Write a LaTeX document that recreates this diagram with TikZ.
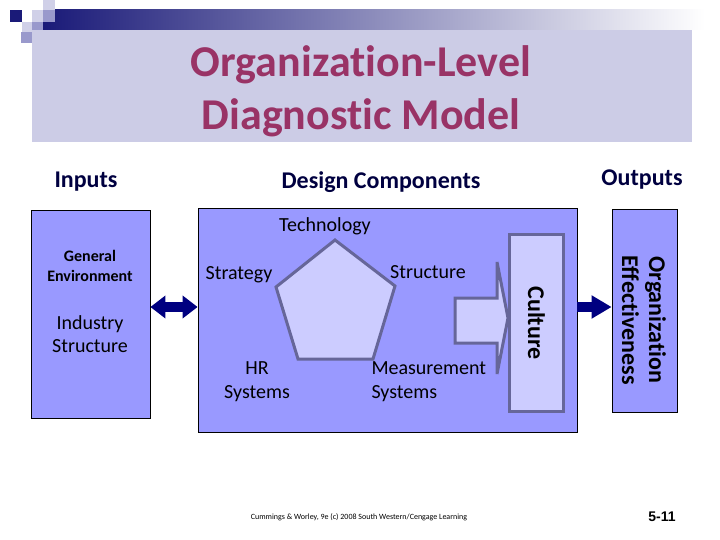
\documentclass[tikz,border=0pt]{standalone}
\usepackage{fontspec}
\setmainfont{Carlito}[Ligatures=NoCommon]
\newfontfamily\arialfont{Liberation Sans}
\usetikzlibrary{arrows.meta}
\definecolor{boxblue}{HTML}{9999FF}
\definecolor{lightlav}{HTML}{CCCCFF}
\definecolor{edgepurple}{HTML}{666699}
\definecolor{navyarrow}{HTML}{000080}
\definecolor{titlecol}{HTML}{993366}
\definecolor{titlebg}{HTML}{CCCCE6}
\definecolor{headcol}{HTML}{000040}
\definecolor{decomid}{HTML}{9999CC}
\definecolor{decolight}{HTML}{D0D0E8}
\definecolor{deconavy}{HTML}{1A1A78}
\begin{document}
\begin{tikzpicture}[x=1pt,y=-1pt,
  box/.style={draw=black, line width=0.8pt, fill=boxblue, inner sep=0pt},
  innerbox/.style={draw=edgepurple, line width=3pt, fill=lightlav, inner sep=0pt},
  head/.style={text=headcol, font=\bfseries\fontsize{24}{29}\selectfont, anchor=base},
  lbl/.style={font=\fontsize{20}{24}\selectfont, align=center, anchor=base},
  navyarr/.style={draw=navyarrow, line width=10pt},
  ]
\useasboundingbox[fill=white] (0,0) rectangle (720,540);
% top-left decoration
\shade[left color=deconavy, right color=white] (43,10) rectangle (705,30);
\fill[decolight] (43,0) rectangle (55,10);
\fill[decolight] (32,10) rectangle (43,22);
\fill[decomid] (43,10) rectangle (55,22);
\fill[deconavy] (10,10) rectangle (22,22);
\fill[decolight] (22,22) rectangle (32,32);
\fill[decomid] (32,22) rectangle (43,32);
\fill[decomid] (21,32) rectangle (32,43);
% title
\fill[titlebg] (32,30) rectangle (692,142);
\node[text=titlecol, font=\bfseries\fontsize{44}{53}\selectfont, align=center, anchor=base] (title) at (361,130) {Organization-Level\\Diagnostic Model};
% headers
\node[head] (inputs) at (86,188) {Inputs};
\node[head] (design) at (381,189) {Design Components};
\node[head] (outputs) at (642,186) {Outputs};
% boxes
\node[box, minimum width=119pt, minimum height=208pt] (env) at (90.5,314) {};
\node[box, minimum width=379pt, minimum height=224pt] (mid) at (387.5,320) {};
\node[box, minimum width=65pt, minimum height=203pt] (oe) at (644.5,310.5) {};
\node[innerbox, minimum width=54pt, minimum height=177pt] (culture) at (536.5,323) {};
% pentagon
\draw[draw=edgepurple, line width=3pt, fill=lightlav, line join=miter]
  (335,240) -- (395,286) -- (373,359) -- (298,359) -- (276,287) -- cycle;
% block arrow into culture
\draw[draw=edgepurple, line width=3pt, fill=lightlav, line join=miter]
  (455,298) -- (497,298) -- (497,262) -- (508,318) -- (497,374) -- (497,343) -- (455,343) -- cycle;
% navy arrows
\coordinate (ay) at (0,307);
\draw[navyarr, {Triangle[length=15pt,width=22pt]}-{Triangle[length=15pt,width=22pt]}] (env.east |- ay) -- (mid.west |- ay);
\draw[navyarr, -{Triangle[length=20pt,width=22pt]}] (mid.east |- ay) -- (oe.west |- ay);
% texts in boxes
\node[font=\bfseries\fontsize{16}{20}\selectfont, align=center, anchor=base] (gen) at (90,281) {General\\Environment};
\node[lbl, font=\fontsize{20}{23}\selectfont] (ind) at (90,352) {Industry\\Structure};
\node[lbl] (tech) at (325,232) {Technology};
\node[lbl] (strat) at (239,279) {Strategy};
\node[lbl] (struc) at (428,278) {Structure};
\node[lbl] (hr) at (257,398) {HR\\Systems};
\node[lbl, align=left, anchor=base west] (meas) at (368,398) {Measurement\\Systems};
\node[rotate=-90, font=\bfseries\fontsize{24}{28}\selectfont] (culttext) at (culture.center) {Culture};
\node[rotate=-90, font=\bfseries\fontsize{24}{27}\selectfont, align=center] (oetext) at (644,320) {Organization\\Effectiveness};
% footer
\node[font=\fontsize{8}{9}\selectfont] (foot) at (359,517) {Cummings \& Worley, 9e (c) 2008 South Western/Cengage Learning};
\node[font=\arialfont\bfseries\fontsize{14}{16}\selectfont] (page) at (662,517) {5-11};
\end{tikzpicture}
\end{document}
